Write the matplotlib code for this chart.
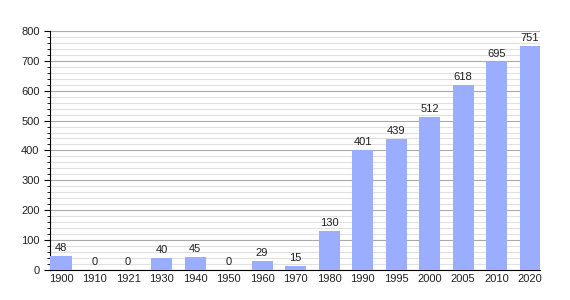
import matplotlib
matplotlib.use("Agg")
import matplotlib.pyplot as plt
from matplotlib.ticker import MultipleLocator

plt.rcParams["font.family"] = ["Liberation Sans", "DejaVu Sans"]

years = ["1900", "1910", "1921", "1930", "1940", "1950", "1960", "1970",
         "1980", "1990", "1995", "2000", "2005", "2010", "2020"]
population = [48, 0, 0, 40, 45, 0, 29, 15, 130, 401, 439, 512, 618, 695, 751]

fig = plt.figure(figsize=(5.7, 3.0), dpi=100)
ax = fig.add_axes([0.0877, 0.1, 0.86, 0.797])

x = range(len(years))
ax.bar(x, population, width=0.63, color="#9aadff", zorder=3)

# value labels above each bar
for xi, v in zip(x, population):
    ax.text(xi, v + 10, str(v), ha="center", va="bottom", fontsize=8, color="#222222", zorder=4)

ax.set_xlim(-0.33, len(years) - 0.7)
ax.set_ylim(0, 800)
ax.set_xticks(list(x))
ax.set_xticklabels(years)
ax.yaxis.set_major_locator(MultipleLocator(100))
ax.yaxis.set_minor_locator(MultipleLocator(20))

ax.grid(axis="y", which="major", color="#aaaaaa", linewidth=0.8, zorder=1)
ax.grid(axis="y", which="minor", color="#e0e0e0", linewidth=0.8, zorder=0)

for side in ["top", "right"]:
    ax.spines[side].set_visible(False)
ax.spines["left"].set_color("black")
ax.spines["bottom"].set_color("black")

ax.tick_params(axis="x", length=0, labelsize=8, pad=3, labelcolor="#222222")
ax.tick_params(axis="y", which="major", length=4, labelsize=8, direction="out", labelcolor="#222222")
ax.tick_params(axis="y", which="minor", length=2, direction="out")

fig.savefig("out.png", dpi=100)
